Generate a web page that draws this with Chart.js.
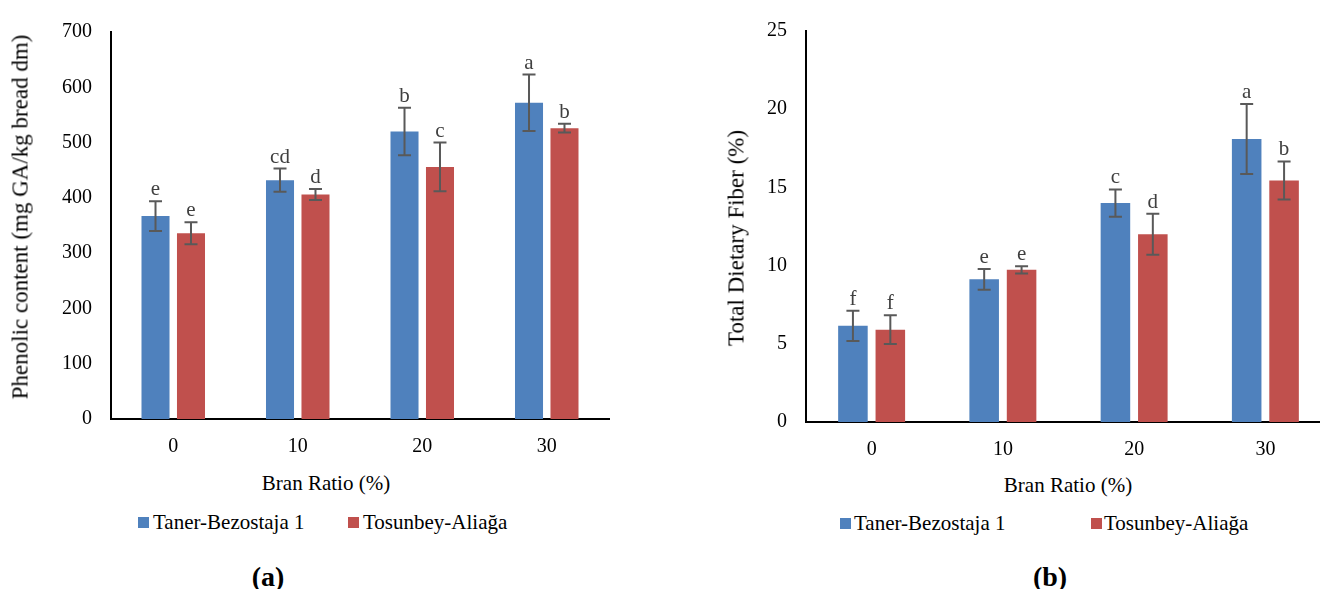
<!DOCTYPE html>
<html>
<head>
<meta charset="utf-8">
<script src="https://cdn.jsdelivr.net/npm/chart.js@4.4.1/dist/chart.umd.min.js"></script>
<style>
  html, body { margin: 0; padding: 0; background: #fff; }
  body { width: 1320px; height: 589px; overflow: hidden; position: relative; color: #000; }
  canvas { position: absolute; top: 0; }
  #phenolic { left: 0; }
  #fiber { left: 700px; }
  .txt { position: absolute; white-space: nowrap; font-size: 21px; line-height: 1;
         font-family: "Liberation Serif", "Times New Roman", serif; }
  .ytitle { font-size: 23px; transform: translate(-50%, -50%) rotate(-90deg); }
  .center { transform: translate(-50%, -50%); }
  .sw { position: absolute; width: 11px; height: 11px; }
  .panel { font-weight: bold; font-size: 28px; }
</style>
</head>
<body>
<canvas id="phenolic" width="620" height="470"></canvas>
<canvas id="fiber" width="640" height="470"></canvas>

<div class="txt ytitle" style="left:20px; top:217px;">Phenolic content (mg GA/kg bread dm)</div>
<div class="txt ytitle" style="left:736px; top:238px;">Total Dietary Fiber (%)</div>

<div class="txt center" style="left:326px; top:483px;">Bran Ratio (%)</div>
<div class="txt center" style="left:1068px; top:485px;">Bran Ratio (%)</div>

<div class="sw" style="left:138px; top:517px; background:#4f81bd;"></div>
<div class="txt" style="left:153px; top:512px;">Taner-Bezostaja 1</div>
<div class="sw" style="left:348px; top:517px; background:#c0504d;"></div>
<div class="txt" style="left:363px; top:512px;">Tosunbey-Aliağa</div>

<div class="sw" style="left:840px; top:518px; background:#4f81bd;"></div>
<div class="txt" style="left:854px; top:513px;">Taner-Bezostaja 1</div>
<div class="sw" style="left:1091px; top:518px; background:#c0504d;"></div>
<div class="txt" style="left:1104px; top:513px;">Tosunbey-Aliağa</div>

<div class="txt panel center" style="left:268px; top:577px;">(a)</div>
<div class="txt panel center" style="left:1050px; top:577px;">(b)</div>

<script>
// Bran ratio categories (%)
const branRatios = ['0', '10', '20', '30'];
const cultivars = ['Taner-Bezostaja 1', 'Tosunbey-Aliağa'];

// Phenolic content (mg GA/kg bread dm), mean ± SD with significance letters
const phenolicTaner = [367, 432, 520, 572];
const phenolicTanerSd = [27, 21, 43, 51];
const phenolicTanerLetters = ['e', 'cd', 'b', 'a'];
const phenolicTosunbey = [336, 406, 456, 526];
const phenolicTosunbeySd = [20, 10, 44, 8];
const phenolicTosunbeyLetters = ['e', 'd', 'c', 'b'];

// Total dietary fiber (%), mean ± SD with significance letters
const fiberTaner = [6.15, 9.12, 14.0, 18.1];
const fiberTanerSd = [0.97, 0.67, 0.87, 2.24];
const fiberTanerLetters = ['f', 'e', 'c', 'a'];
const fiberTosunbey = [5.9, 9.73, 12.01, 15.44];
const fiberTosunbeySd = [0.92, 0.23, 1.31, 1.22];
const fiberTosunbeyLetters = ['f', 'e', 'd', 'b'];

// Axis ranges
const phenolicAxis = { min: 0, max: 700, step: 100 };
const fiberAxis = { min: 0, max: 25, step: 5 };

const BLUE = '#4f81bd';
const RED = '#c0504d';
const FONT = '"Liberation Serif", "Times New Roman", serif';

// Draws SD whiskers and the letter above each bar
const errorBarPlugin = {
  id: 'errorBars',
  afterDatasetsDraw(chart) {
    const ctx = chart.ctx;
    const y = chart.scales.y;
    ctx.save();
    chart.data.datasets.forEach((ds, di) => {
      const meta = chart.getDatasetMeta(di);
      meta.data.forEach((bar, i) => {
        const v = ds.data[i];
        const sd = ds.sd[i];
        const top = y.getPixelForValue(v + sd);
        const bot = y.getPixelForValue(v - sd);
        const x = bar.x;
        ctx.strokeStyle = '#595959';
        ctx.lineWidth = 2;
        ctx.beginPath();
        ctx.moveTo(x, top); ctx.lineTo(x, bot);
        ctx.moveTo(x - 6.5, top); ctx.lineTo(x + 6.5, top);
        ctx.moveTo(x - 6.5, bot); ctx.lineTo(x + 6.5, bot);
        ctx.stroke();
        ctx.fillStyle = '#404040';
        ctx.font = '21px ' + FONT;
        ctx.textAlign = 'center';
        ctx.textBaseline = 'bottom';
        ctx.fillText(ds.letters[i], x, top - 1);
      });
    });
    ctx.restore();
  }
};

function makeChart(id, series, axis, yWidth, xHeight, padTop, padRight) {
  const datasets = series.map((s, k) => ({
    label: cultivars[k],
    data: s.values,
    sd: s.sd,
    letters: s.letters,
    backgroundColor: k === 0 ? BLUE : RED,
    categoryPercentage: 0.57,
    barPercentage: 0.79
  }));
  return new Chart(document.getElementById(id), {
    type: 'bar',
    data: { labels: branRatios, datasets },
    options: {
      responsive: false,
      animation: false,
      devicePixelRatio: 1,
      layout: { padding: { top: padTop, right: padRight, left: 0, bottom: 0 } },
      plugins: { legend: { display: false }, tooltip: { enabled: false } },
      scales: {
        x: {
          grid: { display: false, drawTicks: false },
          border: { display: true, color: '#000', width: 2 },
          ticks: { color: '#000', font: { family: FONT, size: 20 }, padding: 16 },
          afterFit(scale) { scale.height = xHeight; }
        },
        y: {
          min: axis.min, max: axis.max,
          grid: { display: false, drawTicks: false },
          border: { display: true, color: '#000', width: 2 },
          ticks: { stepSize: axis.step, color: '#000', font: { family: FONT, size: 20 }, padding: 19 },
          afterFit(scale) { scale.width = yWidth; }
        }
      }
    },
    plugins: [errorBarPlugin]
  });
}

makeChart('phenolic', [
  { values: phenolicTaner, sd: phenolicTanerSd, letters: phenolicTanerLetters },
  { values: phenolicTosunbey, sd: phenolicTosunbeySd, letters: phenolicTosunbeyLetters }
], phenolicAxis, 111, 51, 32, 11);

makeChart('fiber', [
  { values: fiberTaner, sd: fiberTanerSd, letters: fiberTanerLetters },
  { values: fiberTosunbey, sd: fiberTosunbeySd, letters: fiberTosunbeyLetters }
], fiberAxis, 106, 48, 21, 9);
</script>
</body>
</html>
